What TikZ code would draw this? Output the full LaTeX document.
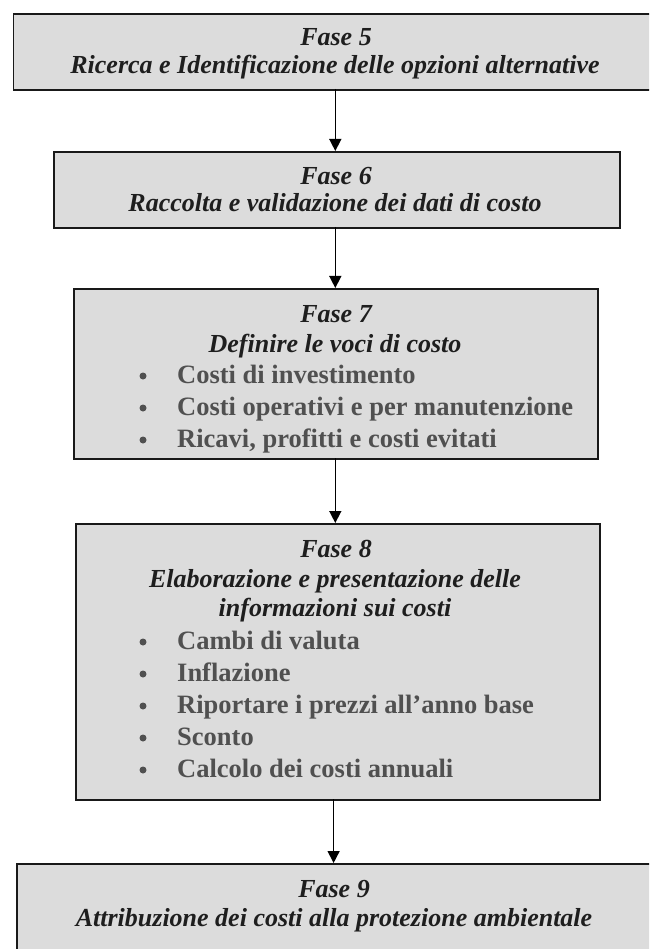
\documentclass[tikz,border=0pt]{standalone}
\usepackage{fontspec}
\setmainfont{Liberation Serif}
\usetikzlibrary{arrows.meta}
\definecolor{boxfill}{HTML}{DCDCDC}
\definecolor{itemgray}{HTML}{505050}
\definecolor{titleblack}{HTML}{1E1E1E}
\tikzset{
  phasebox/.style={draw=black!90, line width=1.7pt, fill=boxfill, inner sep=0pt, anchor=north west},
  ttl/.style={anchor=base, inner sep=0pt, text=titleblack, font=\fontsize{26}{28}\selectfont\bfseries\itshape},
  itm/.style={anchor=base west, inner sep=0pt, text=itemgray, font=\fontsize{26.5}{28}\selectfont\bfseries},
  bul/.style={circle, fill=itemgray, draw=none, inner sep=0pt, minimum size=7pt, yshift=7pt},
  flow/.style={draw=black, line width=1.5pt, -{Triangle[length=12pt,width=12pt]}}
}
\begin{document}
\begin{tikzpicture}[x=1pt,y=-1pt]
\useasboundingbox (0,0) rectangle (649,949);
\clip (0,0) rectangle (649,949);
\fill[white] (0,0) rectangle (649,949);
% boxes
\node[phasebox, minimum width=646pt, minimum height=76pt] (b5) at (12.5,13) {};
\node[phasebox, minimum width=566pt, minimum height=76pt] (b6) at (53,151) {};
\node[phasebox, minimum width=524pt, minimum height=170pt] (b7) at (73.3,288) {};
\node[phasebox, minimum width=524pt, minimum height=276pt] (b8) at (75.3,523) {};
\node[phasebox, minimum width=638pt, minimum height=100pt] (b9) at (16,863) {};
% arrow ends
\coordinate (a5) at (335.3,89);
\coordinate (a6t) at (335.3,151);
\coordinate (a6) at (335.3,227);
\coordinate (a7t) at (335.3,288);
\coordinate (a7) at (335.3,458);
\coordinate (a8t) at (335.3,523);
\coordinate (a8) at (333.6,799);
\coordinate (a9t) at (333.6,863);
\draw[flow] (a5) -- (a6t);
\draw[flow] (a6) -- (a7t);
\draw[flow] (a7) -- (a8t);
\draw[flow] (a8) -- (a9t);
% box 5
\node[ttl] (t5a) at (336,46) {Fase 5};
\node[ttl] (t5b) at (335,74) {Ricerca e Identificazione delle opzioni alternative};
% box 6
\node[ttl] (t6a) at (336,185) {Fase 6};
\node[ttl] (t6b) at (335,212) {Raccolta e validazione dei dati di costo};
% box 7
\node[ttl] (t7a) at (336,322) {Fase 7};
\node[ttl] (t7b) at (335,352) {Definire le voci di costo};
\node[bul] (d7a) at (143,383) {};
\node[itm] (i7a) at (177,383) {Costi di investimento};
\node[bul] (d7b) at (143,415) {};
\node[itm] (i7b) at (177,415) {Costi operativi e per manutenzione};
\node[bul] (d7c) at (143,447) {};
\node[itm] (i7c) at (177,447) {Ricavi, profitti e costi evitati};
% box 8
\node[ttl] (t8a) at (336,557) {Fase 8};
\node[ttl] (t8b) at (335,587) {Elaborazione e presentazione delle};
\node[ttl] (t8c) at (335,616) {informazioni sui costi};
\node[bul] (d8a) at (143,649) {};
\node[itm] (i8a) at (177,649) {Cambi di valuta};
\node[bul] (d8b) at (143,681) {};
\node[itm] (i8b) at (177,681) {Inflazione};
\node[bul] (d8c) at (143,713) {};
\node[itm] (i8c) at (177,713) {Riportare i prezzi all’anno base};
\node[bul] (d8d) at (143,745) {};
\node[itm] (i8d) at (177,745) {Sconto};
\node[bul] (d8e) at (143,777) {};
\node[itm] (i8e) at (177,777) {Calcolo dei costi annuali};
% box 9
\node[ttl] (t9a) at (334,897) {Fase 9};
\node[ttl] (t9b) at (334,926.5) {Attribuzione dei costi alla protezione ambientale};
\end{tikzpicture}
\end{document}
